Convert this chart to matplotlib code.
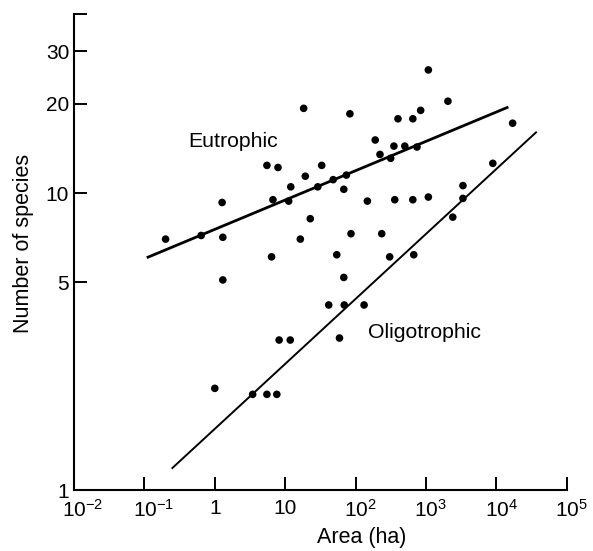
import matplotlib
matplotlib.use('Agg')
import matplotlib.pyplot as plt
from matplotlib.ticker import FixedLocator, FixedFormatter, NullLocator
from matplotlib.transforms import ScaledTranslation

# -----------------------------
# Data (area in ha, number of species)
# -----------------------------
area = [0.20, 0.64, 1.30, 1.27, 6.4, 5.5, 7.9, 18.3, 6.7, 12.0,
        11.2, 19.3, 22.7, 16.4, 33, 29, 48, 54, 1.30, 1080,
        2050, 83, 400, 650, 840, 17000, 190, 350, 500, 745,
        222, 315, 74, 68, 147, 360, 650, 1080, 3350, 3350,
        2400, 8900, 86, 235, 305, 670, 68, 41.5, 69, 132,
        8.2, 11.8, 59, 1.0, 3.45, 5.5, 7.6]
species = [7.0, 7.2, 7.1, 9.3, 6.1, 12.4, 12.2, 19.3, 9.5, 10.5,
           9.4, 11.4, 8.2, 7.0, 12.4, 10.5, 11.1, 6.2, 5.1, 26.0,
           20.4, 18.5, 17.8, 17.8, 19.0, 17.2, 15.1, 14.4, 14.4, 14.3,
           13.5, 13.1, 11.5, 10.3, 9.4, 9.5, 9.5, 9.7, 10.6, 9.6,
           8.3, 12.6, 7.3, 7.3, 6.1, 6.2, 5.2, 4.2, 4.2, 4.2,
           3.2, 3.2, 3.25, 2.2, 2.1, 2.1, 2.1]

# fitted lines (end points)
eutro_x = [0.108, 14800]
eutro_y = [6.06, 19.5]
oligo_x = [0.244, 37400]
oligo_y = [1.18, 16.1]

x_ticks = [1e-2, 1e-1, 1, 10, 1e2, 1e3, 1e4, 1e5]
x_labels = [r'$10^{-2}$', r'$10^{-1}$', '1', '10', r'$10^2$', r'$10^3$', r'$10^4$', r'$10^5$']
y_ticks = [1, 5, 10, 20, 30, 40]
y_labels = ['1', '5', '10', '20', '30', '']

# -----------------------------
# Style
# -----------------------------
plt.rcParams['font.family'] = ['Liberation Sans', 'DejaVu Sans']
plt.rcParams['mathtext.fontset'] = 'custom'
plt.rcParams['mathtext.rm'] = 'Liberation Sans'
plt.rcParams['mathtext.default'] = 'regular'

fig = plt.figure(figsize=(5.93, 5.51), dpi=100)
ax = fig.add_axes([0.1248, 0.1107, 0.8310, 0.8632])

ax.scatter(area, species, s=30, color='black', edgecolors='none', zorder=3)
ax.plot(eutro_x, eutro_y, color='black', lw=2.0, solid_capstyle='butt')
ax.plot(oligo_x, oligo_y, color='black', lw=1.4, solid_capstyle='butt')

ax.set_xscale('log')
ax.set_yscale('log')
ax.set_xlim(1e-2, 1e5)
ax.set_ylim(1, 40)

ax.xaxis.set_major_locator(FixedLocator(x_ticks))
ax.xaxis.set_major_formatter(FixedFormatter(x_labels))
ax.yaxis.set_major_locator(FixedLocator(y_ticks))
ax.yaxis.set_major_formatter(FixedFormatter(y_labels))
ax.xaxis.set_minor_locator(NullLocator())
ax.yaxis.set_minor_locator(NullLocator())

ax.spines['top'].set_visible(False)
ax.spines['right'].set_visible(False)
ax.spines['left'].set_linewidth(1.5)
ax.spines['bottom'].set_linewidth(1.5)
ax.tick_params(axis='both', direction='in', length=9.5, width=1.4, labelsize=15, color='black')
ax.tick_params(axis='y', pad=3.5)
ax.tick_params(axis='x', pad=6.5)

# keep the "10" of each power label centred on its tick, exponent hanging right
half_ten = 8.3 / 72.0
for tick, lab in zip(ax.xaxis.get_major_ticks(len(x_ticks)), x_labels):
    if '^' in lab:
        tick.label1.set_horizontalalignment('left')
        tick.label1.set_transform(tick.label1.get_transform()
                                  + ScaledTranslation(-half_ten, 0, fig.dpi_scale_trans))

ax.text(0.416, 14.3, 'Eutrophic', fontsize=15.3, ha='left', va='baseline')
ax.text(150, 3.25, 'Oligotrophic', fontsize=15.3, ha='left', va='baseline')

ax.set_xlabel('Area (ha)', fontsize=15.5)
ax.set_ylabel('Number of species', fontsize=15.5)
ax.xaxis.set_label_coords(0.584, -0.100)
ax.xaxis.label.set_verticalalignment('center')
ax.yaxis.set_label_coords(-0.103, 0.518)
ax.yaxis.label.set_verticalalignment('center')

plt.savefig('out.png', dpi=100, facecolor='white')
plt.close(fig)
